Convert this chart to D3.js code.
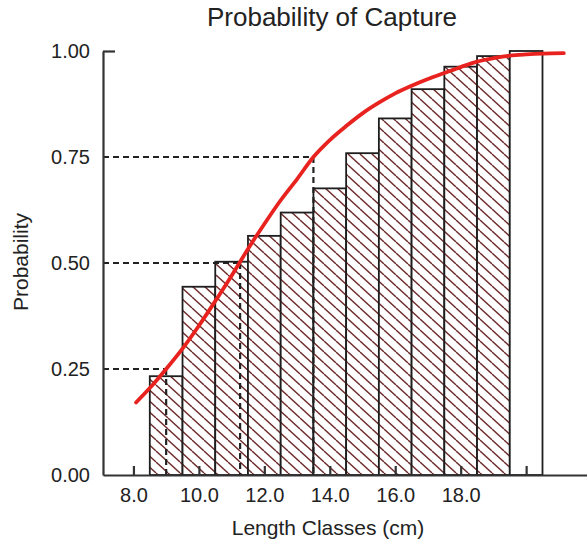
<!DOCTYPE html>
<html>
<head>
<meta charset="utf-8">
<script src="https://cdn.jsdelivr.net/npm/d3@7/dist/d3.min.js"></script>
<style>
  body { margin: 0; background: #fff; }
  text { font-family: "Liberation Sans", Arial, Helvetica, sans-serif; fill: #222; }
</style>
</head>
<body>
<div id="chart-area"></div>
<script>
// length classes (cm) and observed probability of each bar
var lengths = [9, 10, 11, 12, 13, 14, 15, 16, 17, 18, 19, 20];
var probs = [0.233, 0.444, 0.503, 0.564, 0.619, 0.676, 0.759, 0.841, 0.910, 0.963, 0.988, 1.0];

// fitted selection curve
var curveLen = [8.08, 8.5, 9.0, 9.5, 10.0, 10.5, 11.0, 11.5, 12.0, 12.5, 13.0, 13.5, 14.0,
                14.5, 15.0, 15.5, 16.0, 16.5, 17.0, 17.5, 18.0, 18.5, 19.0, 19.5, 20.0, 20.5, 21.15];
var curveProb = [0.171, 0.205, 0.25, 0.298, 0.352, 0.41, 0.47, 0.533, 0.592, 0.648, 0.698, 0.75, 0.79,
                 0.823, 0.853, 0.878, 0.9, 0.918, 0.934, 0.948, 0.962, 0.975, 0.983, 0.989, 0.992, 0.994, 0.995];

// L25, L50, L75
var refProbs = [0.25, 0.5, 0.75];
var refLens = [9.0, 11.26, 13.5];

var xTicks = [8, 10, 12, 14, 16, 18, 20];
var yTicks = [0, 0.25, 0.5, 0.75, 1.0];

var svg_width = 587;
var svg_height = 543;

var x = d3.scaleLinear()
    .domain([7.07, 21.86])
    .range([103, 587]);

var y = d3.scaleLinear()
    .domain([0, 1])
    .range([475, 51]);

var svg = d3.select("#chart-area").append("svg")
    .attr("width", svg_width)
    .attr("height", svg_height);

var defs = svg.append("defs");
var pat = defs.append("pattern")
    .attr("id", "hatch")
    .attr("patternUnits", "userSpaceOnUse")
    .attr("width", 12)
    .attr("height", 11);
pat.append("rect").attr("width", 12).attr("height", 11).attr("fill", "#fff");
[[0, 0, 12, 11], [-12, 0, 0, 11], [12, 0, 24, 11]].forEach((s) => {
    pat.append("line")
        .attr("x1", s[0]).attr("y1", s[1])
        .attr("x2", s[2]).attr("y2", s[3])
        .attr("stroke", "#6e2b2b")
        .attr("stroke-width", 1.4);
});

var bars = lengths.map((d, i) => { return {len: d, p: probs[i]}; });

svg.selectAll("rect.bar")
    .data(bars)
    .enter()
    .append("rect")
    .attr("class", "bar")
    .attr("x", (d) => { return x(d.len - 0.5); })
    .attr("y", (d) => { return y(d.p); })
    .attr("width", (d) => { return x(d.len + 0.5) - x(d.len - 0.5); })
    .attr("height", (d) => { return y(0) - y(d.p); })
    .attr("fill", (d) => { return d.p >= 1 ? "#fff" : "url(#hatch)"; })
    .attr("stroke", "#1e1e1e")
    .attr("stroke-width", 1.8);

// dashed guide lines
refProbs.forEach((p, i) => {
    svg.append("line")
        .attr("x1", x.range()[0]).attr("y1", y(p))
        .attr("x2", x(refLens[i])).attr("y2", y(p))
        .attr("stroke", "#222").attr("stroke-width", 2.2)
        .attr("stroke-dasharray", "6,4");
    svg.append("line")
        .attr("x1", x(refLens[i])).attr("y1", y(p))
        .attr("x2", x(refLens[i])).attr("y2", y(0))
        .attr("stroke", "#222").attr("stroke-width", 2.2)
        .attr("stroke-dasharray", "6,4");
});

// axes
var xAxis = svg.append("g")
    .attr("transform", "translate(0," + y(0) + ")")
    .call(d3.axisBottom(x).tickValues(xTicks).tickFormat((d) => { return d <= 18 ? d.toFixed(1) : ""; })
        .tickSize(-9).tickSizeOuter(0).tickPadding(13));

var yAxis = svg.append("g")
    .attr("transform", "translate(" + x.range()[0] + ",0)")
    .call(d3.axisLeft(y).tickValues(yTicks).tickFormat(d3.format(".2f"))
        .tickSize(-12).tickSizeOuter(0).tickPadding(13));

yAxis.selectAll(".tick line").attr("opacity", (d) => { return d === 1 ? 1 : 0; });

[xAxis, yAxis].forEach((g) => {
    g.select(".domain").attr("stroke", "#333").attr("stroke-width", 2.2);
    g.selectAll(".tick line").attr("stroke", "#333").attr("stroke-width", 2.2);
    g.selectAll(".tick text")
        .style("font-family", "'Liberation Sans', Arial, sans-serif")
        .style("font-size", "20px")
        .attr("fill", "#222");
});

// fitted curve
var pts = curveLen.map((d, i) => { return [d, curveProb[i]]; });
svg.append("path")
    .datum(pts)
    .attr("fill", "none")
    .attr("stroke", "#e8231f")
    .attr("stroke-width", 3.8)
    .attr("stroke-linecap", "round")
    .attr("d", d3.line()
        .x((d) => { return x(d[0]); })
        .y((d) => { return y(d[1]); })
        .curve(d3.curveMonotoneX));

// titles
svg.append("text")
    .attr("x", 332)
    .attr("y", 26)
    .attr("text-anchor", "middle")
    .style("font-size", "26px")
    .text("Probability of Capture");

svg.append("text")
    .attr("x", 328)
    .attr("y", 535)
    .attr("text-anchor", "middle")
    .style("font-size", "21px")
    .text("Length Classes (cm)");

svg.append("text")
    .attr("transform", "translate(28,262) rotate(-90)")
    .attr("text-anchor", "middle")
    .style("font-size", "21px")
    .text("Probability");
</script>
</body>
</html>
